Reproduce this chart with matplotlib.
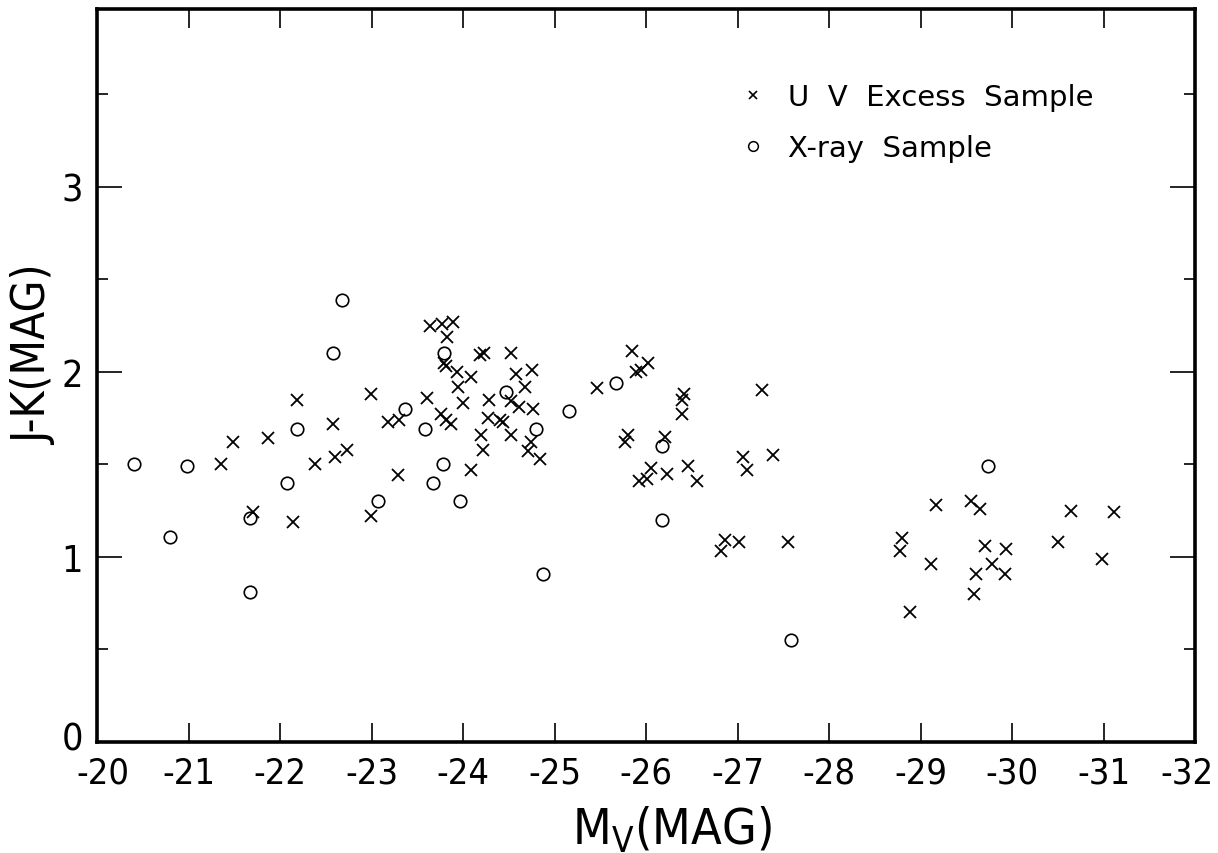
import matplotlib
matplotlib.use("Agg")
import matplotlib.pyplot as plt
import matplotlib.transforms as mtransforms
from matplotlib import font_manager
from matplotlib.lines import Line2D

# UV excess sample (crosses): M_V, J-K
uv_mv = [-21.35, -21.49, -21.71, -21.87, -22.14, -22.19, -22.38, -22.58, -22.60, -22.73,
         -22.99, -22.99, -23.18, -23.30, -23.29, -23.61, -23.64, -23.77, -23.89, -23.83,
         -23.79, -23.81, -23.93, -23.94, -24.00, -23.76, -23.81, -23.87,
         -24.09, -24.19, -24.23, -24.52, -24.58, -24.75, -24.68, -24.28, -24.27, -24.40,
         -24.44, -24.52, -24.61, -24.77, -24.20, -24.22, -24.52, -24.74, -24.71, -24.84,
         -24.09, -25.46, -25.85, -25.89, -25.95, -26.02, -25.80, -25.77, -25.92, -26.01,
         -26.41, -26.39, -26.39, -26.21, -26.06, -26.23, -26.46, -26.56, -27.27, -27.06,
         -27.10, -27.39, -26.86, -26.82, -27.02, -27.55,
         -29.17, -29.55, -29.65, -28.80, -28.78, -29.12, -28.88, -29.71, -29.93, -29.78,
         -29.61, -29.92, -29.58, -30.50, -30.65, -30.98, -31.12]
uv_jk = [1.50, 1.62, 1.24, 1.64, 1.19, 1.85, 1.50, 1.72, 1.54, 1.58,
         1.88, 1.22, 1.73, 1.74, 1.44, 1.86, 2.25, 2.26, 2.27, 2.19,
         2.05, 2.03, 2.00, 1.92, 1.83, 1.77, 1.74, 1.72,
         1.97, 2.09, 2.10, 2.10, 1.99, 2.01, 1.92, 1.85, 1.75, 1.74,
         1.73, 1.84, 1.81, 1.80, 1.66, 1.58, 1.66, 1.62, 1.57, 1.53,
         1.47, 1.91, 2.11, 2.00, 2.01, 2.05, 1.66, 1.62, 1.41, 1.42,
         1.88, 1.85, 1.77, 1.65, 1.48, 1.45, 1.49, 1.41, 1.90, 1.54,
         1.47, 1.55, 1.09, 1.03, 1.08, 1.08,
         1.28, 1.30, 1.26, 1.10, 1.03, 0.96, 0.70, 1.06, 1.04, 0.96,
         0.91, 0.91, 0.80, 1.08, 1.25, 0.99, 1.24]

# X-ray sample (circles)
xr_mv = [-20.40, -20.98, -20.80, -21.67, -21.67, -22.08, -22.19, -22.58, -22.68, -23.07,
         -23.37, -23.58, -23.78, -23.67, -23.79, -23.97, -24.47, -24.80, -25.16, -25.67,
         -24.87, -26.18, -26.17, -27.58, -29.74]
xr_jk = [1.50, 1.49, 1.11, 1.21, 0.81, 1.40, 1.69, 2.10, 2.39, 1.30,
         1.80, 1.69, 1.50, 1.40, 2.10, 1.30, 1.89, 1.69, 1.79, 1.94,
         0.91, 1.60, 1.20, 0.55, 1.49]

x_ticks = list(range(-20, -33, -1))
y_ticks = [0, 1, 2, 3]

names = {f.name for f in font_manager.fontManager.ttflist}
if "Liberation Sans Narrow" in names:
    tick_font = dict(family="Liberation Sans Narrow")
else:
    tick_font = dict(family="DejaVu Sans", stretch="condensed")

plt.rcParams["axes.unicode_minus"] = False

fig = plt.figure(figsize=(12.18, 8.54), dpi=100)
ax = fig.add_axes([97 / 1218, 1 - 743 / 854, 1098 / 1218, 733 / 854])

ax.plot(uv_mv, uv_jk, "x", color="black", ms=8, mew=1.3, ls="none")
ax.plot(xr_mv, xr_jk, "o", mfc="none", mec="black", ms=9, mew=1.2, ls="none")

ax.set_xlim(-20, -32)
ax.set_ylim(0, 3.96)
ax.set_xticks(x_ticks)
ax.set_xticklabels([str(t) for t in x_ticks], fontsize=26, **tick_font)
ax.set_yticks(y_ticks)
ax.set_yticks([0.5, 1.5, 2.5, 3.5], minor=True)
ax.set_yticklabels([str(t) for t in y_ticks], fontsize=27, **tick_font)

ax.tick_params(axis="x", which="major", direction="in", length=14, width=1.2,
               top=True, pad=10)
ax.tick_params(axis="y", which="major", direction="in", length=18, width=1.2,
               right=True, pad=10)
ax.tick_params(axis="y", which="minor", direction="in", length=8, width=1.2,
               right=True)
for s in ax.spines.values():
    s.set_linewidth(2.6)

# nudge the first and last x labels so they stay inside the image / clear of "0"
last = ax.get_xticklabels()[-1]
last.set_transform(last.get_transform() + mtransforms.ScaledTranslation(-8 / 100, 0, fig.dpi_scale_trans))
first = ax.get_xticklabels()[0]
first.set_transform(first.get_transform() + mtransforms.ScaledTranslation(6 / 100, 0, fig.dpi_scale_trans))
zero = ax.get_yticklabels()[0]
zero.set_transform(zero.get_transform() + mtransforms.ScaledTranslation(0, 6 / 100, fig.dpi_scale_trans))

ax.set_xlabel("M$_\\mathregular{V}$(MAG)", fontsize=36, **tick_font)
ax.xaxis.set_label_coords(0.524, -0.084)
ax.set_ylabel("J-K(MAG)", fontsize=33, **tick_font)
ax.yaxis.set_label_coords(-0.036, 0.529)

handles = [Line2D([], [], marker="x", color="black", ls="none", ms=6, mew=1.2),
           Line2D([], [], marker="o", mfc="none", mec="black", ls="none", ms=7, mew=1.1)]
ax.legend(handles, ["U  V  Excess  Sample", "X-ray  Sample"], loc="upper left",
          bbox_to_anchor=(0.5895, 0.899), frameon=False, fontsize=21,
          handlelength=0.63, handletextpad=0.87, labelspacing=0.8,
          borderpad=0, borderaxespad=0)

fig.savefig("out.png", dpi=100)
